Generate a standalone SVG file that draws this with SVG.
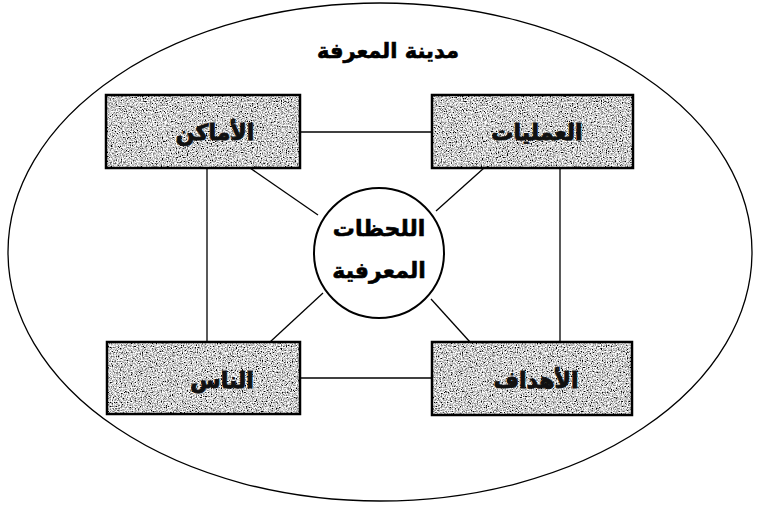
<svg xmlns="http://www.w3.org/2000/svg" width="759" height="507" viewBox="0 0 759 507">
<style>
.box{fill:none;stroke:#000;stroke-width:2.5}
.fillr{fill:#999}
.ln{stroke:#000;stroke-width:1.3;fill:none}
.t{font-family:"DejaVu Sans",sans-serif;font-weight:bold;text-anchor:middle;direction:rtl;fill:#000}
.bt{font-size:22px;fill:#111;stroke:#111;stroke-width:0.9}
</style>
<defs>
<filter id="grain" x="0" y="0" width="100%" height="100%">
<feTurbulence type="fractalNoise" baseFrequency="0.8" numOctaves="2" seed="5" result="n"/>
<feColorMatrix in="n" type="matrix" values="2.6 0 0 0 -0.68  2.6 0 0 0 -0.68  2.6 0 0 0 -0.68  0 0 0 0 1" result="g"/>
<feComposite in="g" in2="SourceGraphic" operator="in"/>
</filter>
</defs>
<rect width="759" height="507" fill="#fff"/>
<g id="city">
<ellipse cx="380" cy="252" rx="372" ry="249" class="ln" stroke-width="1.6"/>
<text class="t" x="388" y="58" font-size="21" stroke="#000" stroke-width="0.6">مدينة المعرفة</text>
</g>
<g id="connectors">
<line class="ln" x1="300" y1="132" x2="432" y2="132"/>
<line class="ln" x1="300" y1="378" x2="432" y2="378"/>
<line class="ln" x1="207" y1="168" x2="207" y2="342"/>
<line class="ln" x1="560" y1="168" x2="560" y2="342"/>
<line class="ln" x1="250" y1="168" x2="318" y2="215"/>
<line class="ln" x1="484" y1="168" x2="436" y2="211"/>
<line class="ln" x1="270" y1="342" x2="323" y2="293"/>
<line class="ln" x1="470" y1="342" x2="431" y2="299"/>
</g>
<g id="places">
<rect class="fillr" x="106" y="95" width="194" height="73" filter="url(#grain)"/>
<rect class="box" x="106" y="95" width="194" height="73"/>
<text class="t bt" x="215" y="140">الأماكن</text>
</g>
<g id="processes">
<rect class="fillr" x="432" y="95" width="201" height="73" filter="url(#grain)"/>
<rect class="box" x="432" y="95" width="201" height="73"/>
<text class="t bt" x="537" y="140">العمليات</text>
</g>
<g id="people">
<rect class="fillr" x="107" y="342" width="193" height="72" filter="url(#grain)"/>
<rect class="box" x="107" y="342" width="193" height="72"/>
<text class="t bt" x="222" y="388">الناس</text>
</g>
<g id="goals">
<rect class="fillr" x="432" y="342" width="200" height="73" filter="url(#grain)"/>
<rect class="box" x="432" y="342" width="200" height="73"/>
<text class="t bt" x="536" y="388">الأهداف</text>
</g>
<g id="moments">
<circle cx="379" cy="253" r="65" fill="#fff" stroke="#000" stroke-width="2"/>
<text class="t" x="379" y="236" font-size="22" stroke="#000" stroke-width="0.6">اللحظات</text>
<text class="t" x="379" y="278" font-size="22" stroke="#000" stroke-width="0.6">المعرفية</text>
</g>
</svg>
